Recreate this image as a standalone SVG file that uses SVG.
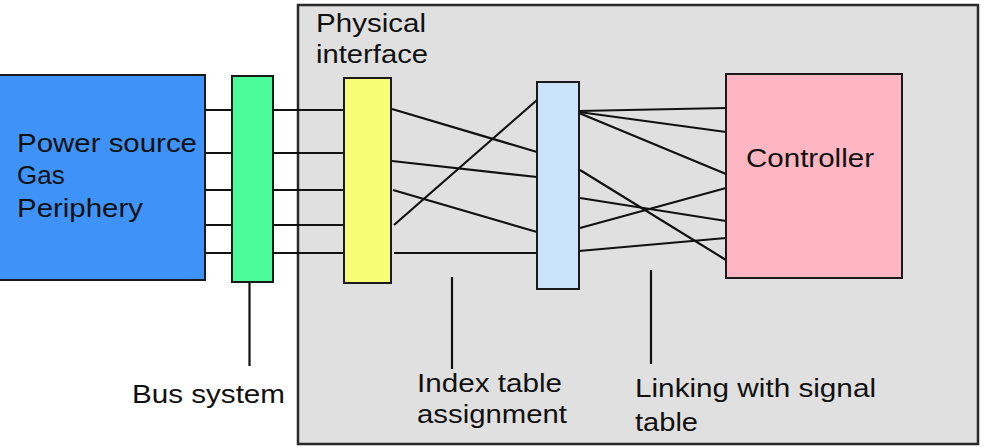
<svg xmlns="http://www.w3.org/2000/svg" width="986" height="447" viewBox="0 0 986 447">
<style>
.box{stroke:#1a1a1a;stroke-width:2}
.ln{stroke:#111;stroke-width:2.2;fill:none}
.t{font-family:"Liberation Sans",Arial,Helvetica,sans-serif;font-size:26px;fill:#111}
</style>
<rect width="986" height="447" fill="#fff"/>
<g id="container">
<rect x="298" y="5" width="680" height="439" fill="#e0e0e0" stroke="#2a2a2a" stroke-width="2.5"/>
<text class="t" x="316" y="32" textLength="110" lengthAdjust="spacingAndGlyphs">Physical</text>
<text class="t" x="316" y="63" textLength="112" lengthAdjust="spacingAndGlyphs">interface</text>
</g>
<g id="connectors">
<line class="ln" x1="205" y1="110" x2="344" y2="110"/>
<line class="ln" x1="205" y1="153" x2="344" y2="153"/>
<line class="ln" x1="205" y1="190" x2="344" y2="190"/>
<line class="ln" x1="205" y1="225" x2="344" y2="225"/>
<line class="ln" x1="205" y1="253" x2="344" y2="253"/>
<line class="ln" x1="392" y1="109" x2="537" y2="152"/>
<line class="ln" x1="392" y1="161" x2="537" y2="177"/>
<line class="ln" x1="393" y1="190" x2="537" y2="232"/>
<line class="ln" x1="394" y1="225" x2="537" y2="100"/>
<line class="ln" x1="394" y1="253" x2="537" y2="253"/>
<line class="ln" x1="579" y1="111" x2="726" y2="108"/>
<line class="ln" x1="579" y1="112" x2="726" y2="132"/>
<line class="ln" x1="579" y1="113" x2="726" y2="174"/>
<line class="ln" x1="580" y1="170" x2="726" y2="260"/>
<line class="ln" x1="580" y1="198" x2="726" y2="221"/>
<line class="ln" x1="580" y1="228" x2="726" y2="188"/>
<line class="ln" x1="579" y1="251" x2="726" y2="238"/>
<line class="ln" x1="249.5" y1="282" x2="249.5" y2="366"/>
<line class="ln" x1="452" y1="277" x2="452" y2="369"/>
<line class="ln" x1="651" y1="270" x2="651" y2="364"/>
</g>
<g id="source">
<rect class="box" x="-2" y="75" width="207" height="205" fill="#3f93f8"/>
<text class="t" x="17" y="152" textLength="180" lengthAdjust="spacingAndGlyphs">Power source</text>
<text class="t" x="17" y="184">Gas</text>
<text class="t" x="17" y="217" textLength="126" lengthAdjust="spacingAndGlyphs">Periphery</text>
</g>
<g id="bus">
<rect class="box" x="232" y="76" width="41" height="206" fill="#4cfb9a"/>
</g>
<g id="physical">
<rect class="box" x="344" y="78" width="47" height="205" fill="#f8fd78"/>
</g>
<g id="index">
<rect class="box" x="537" y="82" width="42" height="207" fill="#cce3fd"/>
</g>
<g id="controller">
<rect class="box" x="726" y="74" width="176" height="204" fill="#feb6c2"/>
<text class="t" x="746" y="167" textLength="128" lengthAdjust="spacingAndGlyphs">Controller</text>
</g>
<g id="labels">
<text class="t" x="132" y="403" textLength="153" lengthAdjust="spacingAndGlyphs">Bus system</text>
<text class="t" x="417" y="392" textLength="145" lengthAdjust="spacingAndGlyphs">Index table</text>
<text class="t" x="417" y="423" textLength="150" lengthAdjust="spacingAndGlyphs">assignment</text>
<text class="t" x="635" y="397" textLength="241" lengthAdjust="spacingAndGlyphs">Linking with signal</text>
<text class="t" x="635" y="431" textLength="63" lengthAdjust="spacingAndGlyphs">table</text>
</g>
</svg>
